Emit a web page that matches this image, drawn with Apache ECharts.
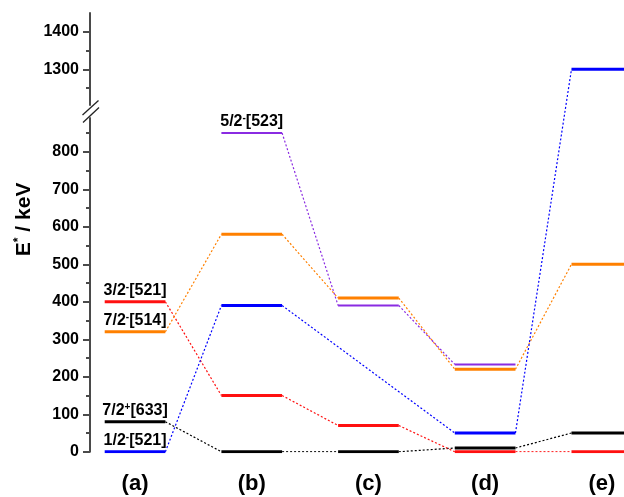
<!DOCTYPE html>
<html lang="en">
<head>
    <meta charset="UTF-8">
    <title>Levels</title>
    <script src="https://cdn.jsdelivr.net/npm/echarts@6/dist/echarts.min.js"></script>
</head>
<body style="margin:0">
<div id="main" style="width: 624px;height:497px;"></div>
<script type="text/javascript">
    // stages and level energies (keV), null = level not drawn at that stage
    var stages = ['(a)', '(b)', '(c)', '(d)', '(e)'];
    var blackLevels = [80, 0, 0, 10, 50];
    var blueLevels = [0, 390, null, 50, 1300];
    var redLevels = [400, 150, 70, 0, 0];
    var orangeLevels = [320, 580, 410, 220, 500];
    var purpleLevels = [null, 850, 390, 233, null];

    // level names: [spin, parity, nilsson], with the stage where they are written
    var blackName = ['7/2', '+', '[633]'], blackNameAt = 0;
    var blueName = ['1/2', '-', '[521]'], blueNameAt = 0;
    var redName = ['3/2', '-', '[521]'], redNameAt = 0;
    var orangeName = ['7/2', '-', '[514]'], orangeNameAt = 0;
    var purpleName = ['5/2', '-', '[523]'], purpleNameAt = 1;

    var lowerTicks = [0, 100, 200, 300, 400, 500, 600, 700, 800];
    var lowerMinor = [50, 150, 250, 350, 450, 550, 650, 750, 850];
    var upperTicks = [1300, 1400];
    var upperMinor = [1250, 1350];

    // broken axis: values above the break are shifted down
    var SHIFT = 280;
    function brk(v) { return v > 1000 ? v - SHIFT : v; }

    var PX = 0.375;          // px per keV
    var TOP = 13, LEFT = 90;
    var HW = 0.26;           // half width of a level bar (stage units)
    var axisColor = '#4a4a4a';
    var FONT = 'Liberation Sans';

    var bands = [
        {levels: blackLevels, color: '#000000', width: 3, name: blackName, at: blackNameAt},
        {levels: redLevels, color: '#ff1010', width: 3, name: redName, at: redNameAt},
        {levels: orangeLevels, color: '#ff8000', width: 3, name: orangeName, at: orangeNameAt},
        {levels: blueLevels, color: '#0000ff', width: 3, name: blueName, at: blueNameAt},
        {levels: purpleLevels, color: '#8a2be2', width: 2, name: purpleName, at: purpleNameAt}
    ];

    var series = [];
    bands.forEach(function (b) {
        var prev = null;
        b.levels.forEach(function (v, i) {
            if (v === null) return;
            series.push({
                type: 'line', xAxisIndex: 0, yAxisIndex: 0, symbol: 'none', z: 5,
                lineStyle: {color: b.color, width: b.width},
                data: [[i - HW, brk(v)], [i + HW, brk(v)]]
            });
            if (prev !== null) {
                series.push({
                    type: 'line', xAxisIndex: 0, yAxisIndex: 0, symbol: 'none', z: 3,
                    lineStyle: {color: b.color, width: 1.2, type: [2, 2]},
                    data: [[prev[0] + HW, brk(prev[1])], [i - HW, brk(v)]]
                });
            }
            prev = [i, v];
        });
        series.push({
            type: 'scatter', xAxisIndex: 0, yAxisIndex: 0, symbolSize: 0, z: 6,
            itemStyle: {color: '#000', opacity: 1},
            label: {
                show: true, position: 'top', distance: 3, color: '#000',
                formatter: '{n|' + b.name[0] + '}{s|' + b.name[1] + '}{n|' + b.name[2] + '}',
                rich: {
                    n: {fontFamily: FONT, fontWeight: 'bold', fontSize: 16, color: '#000', lineHeight: 17},
                    s: {fontFamily: FONT, fontWeight: 'bold', fontSize: 10, color: '#000', lineHeight: 10, verticalAlign: 'top'}
                }
            },
            data: [[b.at, brk(b.levels[b.at])]]
        });
    });

    var tickLabel = {
        fontFamily: FONT, fontWeight: 'bold', fontSize: 16, color: '#000', margin: 11,
        formatter: function (v) { return String(v); }
    };

    var myChart = echarts.init(document.getElementById('main'));
    myChart.setOption({
        animation: false,
        grid: [
            {left: LEFT, right: 0, top: TOP, height: 1170 * PX},
            {left: LEFT, right: 0, top: TOP, height: (1450 - 1205) * PX},
            {left: LEFT, right: 0, top: TOP + 1170 * PX - 890 * PX, height: 890 * PX}
        ],
        xAxis: [
            {
                type: 'value', gridIndex: 0, min: -0.386, max: 4.19,
                axisLine: {show: false}, axisTick: {show: false}, splitLine: {show: false},
                axisLabel: {
                    customValues: [0, 1, 2, 3, 4],
                    formatter: function (v) { return stages[Math.round(v)]; },
                    fontFamily: FONT, fontWeight: 'bold', fontSize: 22, color: '#000', margin: 21
                }
            },
            {type: 'value', gridIndex: 1, show: false, min: 0, max: 1},
            {type: 'value', gridIndex: 2, show: false, min: 0, max: 1}
        ],
        yAxis: [
            {
                type: 'value', gridIndex: 0, min: 0, max: 1170,
                axisLine: {show: false}, axisTick: {show: false}, axisLabel: {show: false}, splitLine: {show: false},
                name: '{b|E}{s|*}{b| / keV}', nameLocation: 'middle', nameGap: 54, nameRotate: 90,
                nameTextStyle: {
                    padding: [0, 0, 0, 26],
                    rich: {
                        b: {fontFamily: FONT, fontWeight: 'bold', fontSize: 21, color: '#000', lineHeight: 23},
                        s: {fontFamily: FONT, fontWeight: 'bold', fontSize: 12, color: '#000', lineHeight: 12, verticalAlign: 'top'}
                    }
                }
            },
            {
                type: 'value', gridIndex: 1, min: 1205, max: 1450, position: 'left',
                axisLine: {show: true, lineStyle: {color: axisColor, width: 2}},
                axisTick: {show: true, customValues: upperTicks, length: 7, lineStyle: {color: axisColor, width: 2}},
                axisLabel: Object.assign({customValues: upperTicks}, tickLabel),
                splitLine: {show: false}
            },
            {
                type: 'value', gridIndex: 1, min: 1205, max: 1450, position: 'left',
                axisLine: {show: false},
                axisTick: {show: true, customValues: upperMinor, length: 4, lineStyle: {color: axisColor, width: 2}},
                axisLabel: {show: false}, splitLine: {show: false}
            },
            {
                type: 'value', gridIndex: 2, min: 0, max: 890, position: 'left',
                axisLine: {show: true, lineStyle: {color: axisColor, width: 2}},
                axisTick: {show: true, customValues: lowerTicks, length: 7, lineStyle: {color: axisColor, width: 2}},
                axisLabel: Object.assign({customValues: lowerTicks}, tickLabel),
                splitLine: {show: false}
            },
            {
                type: 'value', gridIndex: 2, min: 0, max: 890, position: 'left',
                axisLine: {show: false},
                axisTick: {show: true, customValues: lowerMinor, length: 4, lineStyle: {color: axisColor, width: 2}},
                axisLabel: {show: false}, splitLine: {show: false}
            }
        ],
        graphic: [
            {type: 'line', shape: {x1: 82.5, y1: 115, x2: 98.5, y2: 100.5}, style: {stroke: '#222', lineWidth: 1.3}},
            {type: 'line', shape: {x1: 83, y1: 122.5, x2: 99, y2: 107.5}, style: {stroke: '#222', lineWidth: 1.3}}
        ],
        series: series
    });
</script>
</body>
</html>
